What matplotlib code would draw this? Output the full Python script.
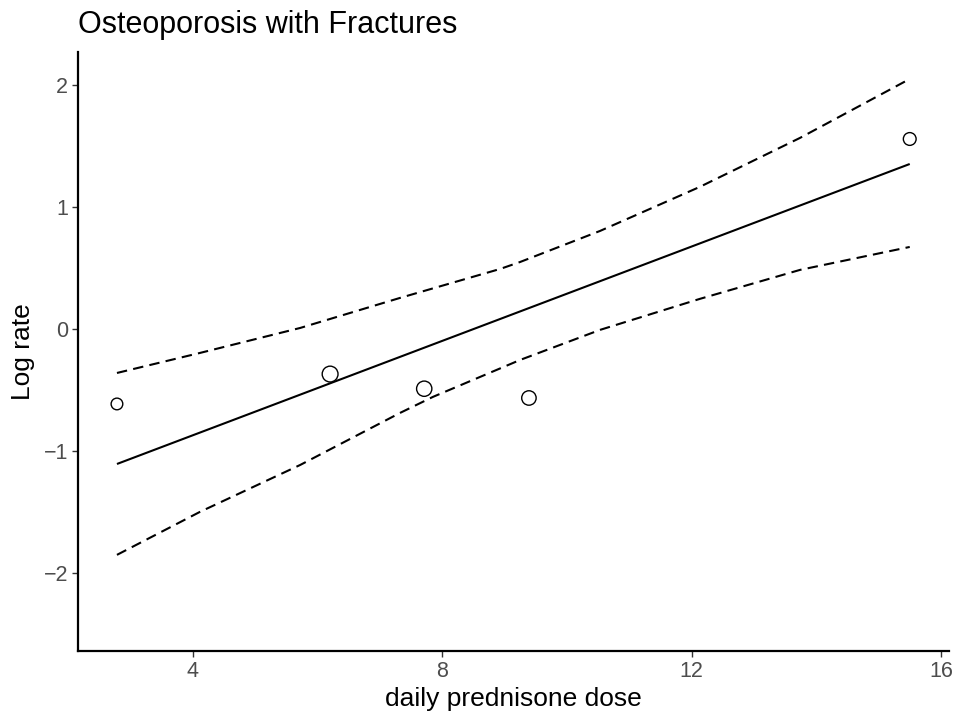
import matplotlib
matplotlib.use("Agg")
import matplotlib.pyplot as plt

# data
dose = [2.78, 6.20, 7.71, 9.39, 15.50]
log_rate = [-0.615, -0.37, -0.49, -0.566, 1.557]
marker_diam_pt = [8.4, 11.4, 11.0, 10.4, 9.2]

fit_x = [2.78, 15.50]
fit_y = [-1.107, 1.352]

upper_x = [2.78, 4.11, 5.72, 7.32, 8.93, 9.25, 10.53, 12.13, 13.74, 15.50]
upper_y = [-0.361, -0.197, 0.008, 0.254, 0.492, 0.549, 0.803, 1.164, 1.566, 2.049]

lower_x = [2.78, 4.11, 5.72, 7.32, 7.85, 9.25, 10.53, 12.13, 13.74, 15.50]
lower_y = [-1.852, -1.500, -1.115, -0.689, -0.557, -0.254, -0.008, 0.246, 0.484, 0.672]

xticks = [4, 8, 12, 16]
yticks = [-2, -1, 0, 1, 2]
ytick_labels = ["\u22122", "\u22121", "0", "1", "2"]

plt.rcParams['font.family'] = ['Liberation Sans', 'DejaVu Sans']

fig = plt.figure(figsize=(9.56, 7.2), dpi=100)
ax = fig.add_axes([78/956, 69/720, (949-78)/956, (651-52)/720])

ax.plot(fit_x, fit_y, color='black', lw=1.5, solid_capstyle='butt')
ax.plot(upper_x, upper_y, color='black', lw=1.5, dashes=(5, 3))
ax.plot(lower_x, lower_y, color='black', lw=1.5, dashes=(5, 3))
ax.scatter(dose, log_rate, s=[d**2 for d in marker_diam_pt], facecolors='white',
           edgecolors='black', linewidths=1.0, zorder=3)

ax.set_xlim(2.155, 16.13)
ax.set_ylim(-2.64, 2.27)
ax.set_xticks(xticks)
ax.set_xticklabels([str(t) for t in xticks])
ax.set_yticks(yticks)
ax.set_yticklabels(ytick_labels)

for s in ['top', 'right']:
    ax.spines[s].set_visible(False)
for s in ['left', 'bottom']:
    ax.spines[s].set_linewidth(1.6)
    ax.spines[s].set_color('black')

ax.tick_params(axis='both', length=4.5, width=1.0, color='#333333',
               labelsize=15.5, labelcolor='#4D4D4D', pad=2.5)

ax.set_xlabel('daily prednisone dose', fontsize=19, labelpad=4)
ax.set_ylabel('Log rate', fontsize=19, labelpad=6)
fig.text(78/956, 1 - 33/720, 'Osteoporosis with Fractures', fontsize=22,
         ha='left', va='baseline')

fig.savefig('out.png', dpi=100)
